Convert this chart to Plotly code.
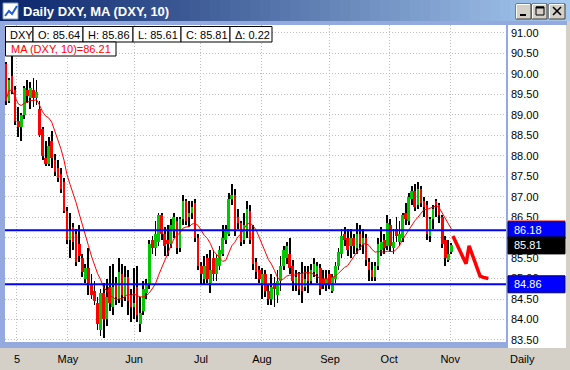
import plotly.graph_objects as go
import pandas as pd

# ---------------- data ----------------
opens = [90.25, 89.35, 89.95, 89.60, 88.85, 88.70, 89.00, 89.60, 89.40, 89.60,
         89.40, 89.15, 88.65, 87.95, 87.80, 88.35, 87.90, 87.70, 87.55, 87.35,
         86.65, 85.95, 86.25, 86.10, 85.85, 85.50, 85.00, 85.25, 84.85, 84.70,
         84.40, 83.75, 84.65, 84.00, 84.80, 84.30, 84.90, 84.50, 85.10, 84.55,
         85.05, 84.60, 84.30, 84.80, 83.90, 84.20, 84.65, 84.85, 85.95, 85.75,
         85.90, 86.55, 86.10, 85.95, 85.85, 86.20, 86.40, 85.75, 86.45, 86.90,
         86.50, 86.60, 86.85, 86.00, 85.30, 85.00, 85.50, 84.90, 85.50, 85.10,
         85.30, 85.60, 85.95, 86.10, 86.95, 87.05, 86.50, 86.35, 85.95, 86.20,
         86.65, 86.20, 85.40, 85.20, 84.90, 85.10, 84.70, 84.50, 84.90, 84.60,
         84.95, 85.30, 85.50, 85.60, 85.30, 84.90, 85.10, 85.10, 84.80, 85.10,
         84.95, 85.15, 85.10, 85.25, 85.00, 84.85, 85.10, 84.70, 85.00, 85.30,
         85.60, 86.10, 86.00, 85.80, 86.00, 85.75, 86.10, 85.85, 86.00, 85.40,
         85.20, 85.05, 85.30, 85.70, 85.95, 85.80, 86.30, 85.75, 86.20, 85.90,
         86.00, 86.60, 86.40, 86.95, 87.15, 86.80, 87.20, 86.90, 86.80, 86.05,
         86.45, 86.90, 86.80, 86.50, 85.95, 85.45, 85.64]
highs = [90.30, 89.90, 90.50, 89.70, 89.20, 89.05, 89.70, 89.85, 89.80, 89.90,
         89.85, 89.35, 88.70, 88.37, 88.45, 88.60, 88.05, 87.90, 87.70, 87.45,
         86.75, 86.60, 86.35, 86.20, 86.30, 85.60, 85.35, 85.75, 85.10, 84.95,
         84.55, 84.75, 84.90, 85.00, 85.30, 85.35, 85.05, 85.50, 85.35, 85.30,
         85.20, 84.75, 85.25, 85.30, 84.55, 84.95, 85.00, 85.95, 86.05, 86.40,
         86.60, 86.60, 86.25, 86.30, 86.45, 86.60, 86.50, 86.50, 87.05, 86.95,
         86.90, 86.90, 86.95, 86.10, 85.40, 85.55, 85.60, 85.70, 85.70, 85.60,
         85.80, 86.30, 86.30, 87.10, 87.30, 87.20, 86.70, 86.40, 86.60, 86.90,
         86.80, 86.30, 85.50, 85.30, 85.25, 85.20, 84.85, 85.10, 85.05, 85.20,
         85.55, 85.80, 85.90, 86.00, 85.45, 85.20, 85.15, 85.40, 85.30, 85.30,
         85.35, 85.50, 85.40, 85.35, 85.20, 85.20, 85.20, 85.10, 85.40, 85.75,
         86.20, 86.25, 86.20, 86.20, 86.10, 86.35, 86.30, 86.20, 86.10, 85.50,
         85.40, 85.40, 86.00, 86.25, 86.10, 86.55, 86.45, 86.20, 86.50, 86.40,
         86.60, 86.85, 87.10, 87.25, 87.30, 87.35, 87.25, 87.00, 86.90, 86.50,
         86.80, 86.95, 86.85, 86.55, 86.05, 85.95, 85.86]
lows = [89.25, 89.28, 89.50, 88.75, 88.45, 88.35, 88.90, 89.30, 89.15, 89.20,
        89.25, 88.45, 87.90, 87.76, 87.75, 87.70, 87.50, 87.35, 87.10, 86.60,
        85.85, 85.50, 85.70, 85.30, 85.40, 85.05, 84.90, 84.60, 84.50, 84.35,
        83.75, 83.60, 83.55, 83.85, 84.20, 84.10, 84.35, 84.40, 84.30, 84.45,
        84.10, 83.95, 84.00, 83.95, 83.70, 84.10, 84.50, 84.75, 85.60, 85.55,
        85.80, 85.95, 85.55, 85.55, 85.75, 86.00, 85.60, 85.65, 86.30, 86.30,
        86.25, 86.45, 85.90, 85.20, 84.85, 84.85, 84.90, 84.65, 84.95, 84.95,
        85.20, 85.55, 85.85, 86.05, 86.80, 86.05, 86.20, 85.80, 85.85, 86.00,
        85.85, 85.20, 85.00, 84.90, 84.50, 84.55, 84.35, 84.35, 84.30, 84.40,
        84.70, 85.20, 85.35, 85.10, 84.70, 84.70, 84.60, 84.40, 84.70, 84.65,
        84.85, 85.05, 84.90, 84.60, 84.75, 84.70, 84.75, 84.65, 84.90, 85.20,
        85.50, 85.80, 85.55, 85.50, 85.60, 85.60, 85.70, 85.60, 85.30, 84.95,
        84.95, 84.95, 85.20, 85.55, 85.60, 85.70, 85.65, 85.60, 85.90, 85.80,
        85.90, 86.30, 86.30, 86.80, 86.65, 86.70, 86.75, 86.50, 85.95, 85.90,
        86.20, 86.50, 86.35, 85.75, 85.30, 85.40, 85.61]
closes = [89.35, 89.85, 89.60, 88.85, 88.70, 89.00, 89.65, 89.45, 89.65, 89.40,
          89.55, 88.50, 88.00, 87.80, 88.25, 87.95, 87.60, 87.45, 87.20, 86.65,
          85.95, 86.15, 85.90, 85.40, 85.55, 85.15, 85.25, 84.90, 84.60, 84.45,
          83.90, 84.65, 84.00, 84.55, 84.40, 84.80, 84.55, 85.15, 84.60, 85.05,
          84.45, 84.30, 84.40, 84.10, 84.15, 84.75, 84.85, 85.85, 85.75, 86.10,
          86.55, 86.10, 85.80, 85.85, 86.30, 86.50, 85.75, 86.45, 86.90, 86.40,
          86.60, 86.75, 86.00, 85.30, 85.10, 85.30, 85.00, 85.20, 85.10, 85.50,
          85.70, 86.00, 86.20, 86.95, 87.05, 86.15, 86.35, 85.90, 86.30, 86.70,
          85.95, 85.35, 85.15, 85.00, 85.10, 84.70, 84.50, 84.80, 84.75, 84.95,
          85.30, 85.70, 85.80, 85.25, 84.95, 85.05, 84.75, 84.70, 85.00, 84.95,
          85.20, 85.35, 85.30, 84.75, 84.85, 85.00, 84.85, 85.05, 85.30, 85.65,
          86.05, 85.95, 85.70, 86.00, 85.80, 86.10, 85.85, 86.00, 85.45, 85.20,
          85.05, 85.30, 85.85, 85.90, 85.75, 86.35, 85.80, 85.90, 86.05, 86.10,
          86.55, 86.45, 87.00, 87.15, 86.75, 87.20, 86.85, 86.75, 86.10, 86.45,
          86.70, 86.80, 86.55, 85.85, 85.50, 85.59, 85.81]
bar_idx = list(range(len(closes)))
ma_period = 10

# hand-drawn projection after the last bar
proj_idx = [146.5, 150.8, 151.8, 155.4, 156.5, 158.1]
proj_vals = [86.04, 85.36, 85.80, 85.06, 85.03, 85.00]

levels = [86.18, 84.86]
month_idx = [3.6, 20.3, 42.0, 63.9, 83.9, 106.2, 125.6, 145.6]
month_labels = ["5", "May", "Jun", "Jul", "Aug", "Sep", "Oct", "Nov"]
y_ticks = [83.5, 84.0, 84.5, 85.0, 85.5, 86.0, 86.5, 87.0, 87.5,
           88.0, 88.5, 89.0, 89.5, 90.0, 90.5, 91.0]
symbol = "DXY"

# ---------------- helpers ----------------
W, H = 570, 370
FONT = "Liberation Sans, Arial, sans-serif"
UP, DOWN = "#00C800", "#FF0000"


def px(x):
    return x / W


def py(y):
    return 1 - y / H


shapes = []


def rect(x0, y0, x1, y1, fill, line=None, lw=1, layer="below"):
    shapes.append(dict(type="rect", xref="paper", yref="paper",
                       x0=px(x0), x1=px(x1), y0=py(y1), y1=py(y0),
                       fillcolor=fill, layer=layer,
                       line=dict(color=line or fill, width=lw if line else 0)))


def seg(x0, y0, x1, y1, color, w=1, layer="above"):
    shapes.append(dict(type="line", xref="paper", yref="paper",
                       x0=px(x0), x1=px(x1), y0=py(y0), y1=py(y1),
                       layer=layer, line=dict(color=color, width=w)))


# title bar gradient
c0, c1 = (10, 36, 106), (166, 202, 240)
n = 57
for k in range(n):
    t = k / (n - 1)
    col = "rgb(%d,%d,%d)" % tuple(round(a + (b - a) * t) for a, b in zip(c0, c1))
    rect(k * 10, 0, k * 10 + 10.6, 21, col)

# frame & panels
rect(0, 21, 567, 25, "#94A9DE")
rect(0, 21, 508, 348, "#94A9DE")
rect(5, 25, 506, 342, "white")
rect(508, 25, 566, 348, "white")

# icon
rect(3, 3, 18, 19, "white", "#7F9DB9", layer="above")
shapes.append(dict(type="path", xref="paper", yref="paper", layer="above",
                   path="M %f %f L %f %f L %f %f L %f %f" % (px(5), py(16), px(9), py(11), px(12), py(14), px(17), py(6)),
                   line=dict(color="#1E5BD6", width=2)))

# window buttons
for bx0, bx1 in [(516, 531), (532, 547), (549, 565)]:
    rect(bx0, 4, bx1, 19, "#D4D0C8", "#404040", layer="above")
    seg(bx0 + 0.5, 4.5, bx1 - 1, 4.5, "white")
    seg(bx0 + 0.5, 4.5, bx0 + 0.5, 18.5, "white")
seg(520, 15, 526, 15, "black", 2)
rect(536, 7, 544, 15, "rgba(0,0,0,0)", "black", layer="above")
seg(536, 7.5, 544, 7.5, "black", 2)
seg(553, 7, 561, 15, "black", 1.6)
seg(561, 7, 553, 15, "black", 1.6)

# info boxes
info_text = [symbol,
             "O: %.2f" % opens[-1], "H: %.2f" % highs[-1],
             "L: %.2f" % lows[-1], "C: %.2f" % closes[-1],
             "\u0394: %.2f" % (closes[-1] - closes[-2])]
info_edges = [5.5, 33, 83, 133, 181, 230, 272]
for k, txt in enumerate(info_text):
    rect(info_edges[k], 26.5, info_edges[k + 1], 42, "white", "black", layer="above")

ma = pd.Series(closes).rolling(ma_period, min_periods=1).mean()
ma_text = "MA (%s, %d)=%.2f" % (symbol, ma_period, ma.iloc[-1])
rect(5.5, 42, 116, 56, "white", "black", layer="above")

# right-hand value boxes
box_specs = [(ma.iloc[-1], "#F08080", "#F08080", None),
             (levels[0], "#0000FF", "#000060", "%.2f" % levels[0]),
             (closes[-1], "#000000", "#000000", "%.2f" % closes[-1]),
             (levels[1], "#0000FF", "#000060", "%.2f" % levels[1])]
for val, fill, edge, _ in box_specs:
    shapes.append(dict(type="rect", xref="paper", yref="y", layer="above",
                       x0=px(508), x1=px(565), ysizemode="pixel", yanchor=val,
                       y0=-8.5, y1=8.5, fillcolor=fill, line=dict(color=edge, width=1)))

# horizontal level lines
for lv in levels:
    shapes.append(dict(type="line", xref="x domain", yref="y", x0=0, x1=1,
                       y0=lv, y1=lv, layer="above", line=dict(color="#0000FF", width=2)))

# ---------------- traces ----------------
body_base = [min(o, c) for o, c in zip(opens, closes)]
body_len = [max(abs(c - o), 0.03) for o, c in zip(opens, closes)]
body_col = [UP if c >= o else DOWN for o, c in zip(opens, closes)]

fig = go.Figure()
fig.add_trace(go.Bar(x=bar_idx, base=lows, y=[h - l for h, l in zip(highs, lows)],
                     width=0.28, marker=dict(color="black", line=dict(width=0))))
fig.add_trace(go.Bar(x=bar_idx, base=body_base, y=body_len, width=0.85,
                     marker=dict(color=body_col, line=dict(width=0))))
fig.add_trace(go.Scatter(x=bar_idx, y=ma, mode="lines",
                         line=dict(color="#FF0000", width=1)))
fig.add_trace(go.Scatter(x=proj_idx, y=proj_vals, mode="lines",
                         line=dict(color="#FF0000", width=3.5)))

# ---------------- annotations ----------------
ann = []
ann.append(dict(x=px(21), y=py(11), xref="paper", yref="paper", text="<b>Daily DXY, MA (DXY, 10)</b>",
                showarrow=False, xanchor="left", yanchor="middle",
                font=dict(family=FONT, size=13, color="white")))
for k, txt in enumerate(info_text):
    ann.append(dict(x=px(info_edges[k] + 2.5), y=py(34.5), xref="paper", yref="paper", text=txt,
                    showarrow=False, xanchor="left", yanchor="middle",
                    font=dict(family=FONT, size=11, color="black")))
ann.append(dict(x=px(8.5), y=py(49), xref="paper", yref="paper", text=ma_text,
                showarrow=False, xanchor="left", yanchor="middle",
                font=dict(family=FONT, size=11, color="#FF0000")))
for val, fill, edge, txt in box_specs:
    if txt:
        ann.append(dict(x=px(512), y=val, xref="paper", yref="y", text=txt,
                        showarrow=False, xanchor="left", yanchor="middle",
                        font=dict(family=FONT, size=11, color="white")))
ann.append(dict(x=px(522), y=py(359), xref="paper", yref="paper", text="Daily",
                showarrow=False, xanchor="center", yanchor="middle",
                font=dict(family=FONT, size=11, color="black")))

fig.update_layout(
    width=W, height=H, margin=dict(l=0, r=0, t=0, b=0, autoexpand=False),
    paper_bgcolor="#D4D0C8", plot_bgcolor="rgba(0,0,0,0)",
    showlegend=False, barmode="overlay", bargap=0, hovermode=False,
    shapes=shapes, annotations=ann,
    xaxis=dict(domain=[px(5), px(506)], range=[-0.33, 163.9], automargin=False,
               tickvals=month_idx, ticktext=month_labels, ticks="",
               showgrid=True, gridcolor="#BDBDBD", griddash="1px,2px", gridwidth=1,
               zeroline=False, showline=False, ticklabelstandoff=9,
               tickfont=dict(family=FONT, size=11, color="black")),
    yaxis=dict(domain=[py(342), py(25)], range=[83.45, 91.195], side="right", automargin=False,
               tickvals=y_ticks, ticktext=["%.2f" % v for v in y_ticks], ticks="",
               showgrid=True, gridcolor="#BDBDBD", griddash="1px,2px", gridwidth=1,
               zeroline=False, showline=False, ticklabelstandoff=4,
               tickfont=dict(family=FONT, size=11, color="black")),
)

fig.write_html("out.html", config={"displayModeBar": False},
               post_script="document.body.style.margin='0';document.body.style.overflow='hidden';")
